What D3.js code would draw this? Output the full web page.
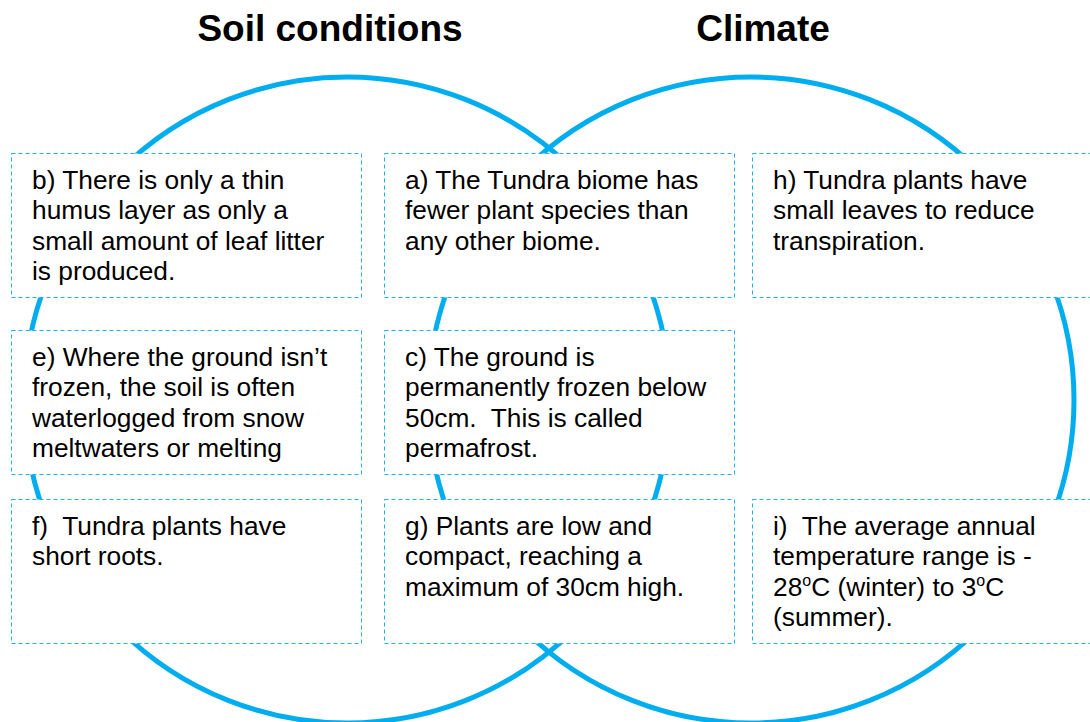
<!DOCTYPE html>
<meta charset="utf-8">
<script src="https://d3js.org/d3.v7.min.js"></script>
<style>
  body { margin: 0; background: #fff; }
  text { font-family: "Liberation Sans", Arial, sans-serif; white-space: pre; }
</style>
<div id="venn"></div>
<script>
// the two sets of the diagram
const sets = ["Soil conditions", "Climate"];

// statement cards: label, column, row and wrapped text lines
const cardLabels = ["b", "a", "h", "e", "c", "f", "g", "i"];
const cardCols = [0, 1, 2, 0, 1, 0, 1, 2];
const cardRows = [0, 0, 0, 1, 1, 2, 2, 2];
const cardLines = [
  ["b) There is only a thin", "humus layer as only a", "small amount of leaf litter", "is produced."],
  ["a) The Tundra biome has", "fewer plant species than", "any other biome."],
  ["h) Tundra plants have", "small leaves to reduce", "transpiration."],
  ["e) Where the ground isn\u2019t", "frozen, the soil is often", "waterlogged from snow", "meltwaters or melting"],
  ["c) The ground is", "permanently frozen below", "50cm.  This is called", "permafrost."],
  ["f)  Tundra plants have", "short roots."],
  ["g) Plants are low and", "compact, reaching a", "maximum of 30cm high."],
  ["i)  The average annual", "temperature range is -", "28^oC (winter) to 3^oC", "(summer)."]
];

const width = 1090, height = 722;

const svg = d3.select("#venn")
  .append("svg")
    .attr("width", width)
    .attr("height", height);

// circle layout
const circleX = d3.scaleOrdinal().domain(sets).range([347, 751]);
const cy = 400, r = 323;

svg.selectAll("circle.set")
  .data(sets)
  .join("circle")
    .attr("class", "set")
    .attr("cx", d => circleX(d))
    .attr("cy", cy)
    .attr("r", r)
    .attr("fill", "none")
    .attr("stroke", "#00AEEF")
    .attr("stroke-width", 5);

svg.selectAll("text.title")
  .data(sets)
  .join("text")
    .attr("class", "title")
    .attr("x", (d, i) => i === 0 ? 330 : 763)
    .attr("y", 41)
    .attr("text-anchor", "middle")
    .attr("font-size", 37)
    .attr("font-weight", "bold")
    .attr("fill", "#000")
    .text(d => d);

// card grid
const colX = d3.scaleOrdinal().domain([0, 1, 2]).range([11, 384, 752]);
const rowY = d3.scaleOrdinal().domain([0, 1, 2]).range([153, 330, 499]);
const cardW = 350, cardH = 144;

const cards = cardLabels.map((l, i) => ({label: l, col: cardCols[i], row: cardRows[i], lines: cardLines[i]}));

const card = svg.selectAll("g.card")
  .data(cards)
  .join("g")
    .attr("class", "card")
    .attr("transform", d => `translate(${colX(d.col)}, ${rowY(d.row)})`);

card.append("rect")
    .attr("x", 0.5)
    .attr("y", 0.5)
    .attr("width", cardW)
    .attr("height", cardH)
    .attr("fill", "#fff")
    .attr("stroke", "#1AB2F0")
    .attr("stroke-width", 1)
    .attr("stroke-dasharray", "4,3");

card.each(function(d) {
  const t = d3.select(this).append("text")
    .attr("font-size", 26.3)
    .attr("fill", "#000");
  d.lines.forEach((line, k) => {
    const parts = line.split("^o");
    let shift = 0;
    parts.forEach((p, j) => {
      const ts = t.append("tspan").text(p);
      if (j === 0) ts.attr("x", 21).attr("y", 36 + k * 30.3);
      else ts.attr("dy", shift);
      if (j < parts.length - 1) {
        t.append("tspan")
          .attr("font-size", 16)
          .attr("dy", -10)
          .text("o");
        shift = 10;
      }
    });
  });
});
</script>
